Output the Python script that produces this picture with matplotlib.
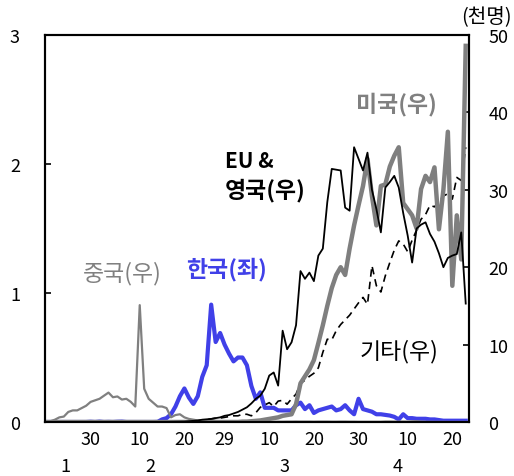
import matplotlib
matplotlib.use("Agg")
import matplotlib.pyplot as plt
import numpy as np

plt.rcParams['font.family'] = ['Noto Sans CJK KR', 'DejaVu Sans']

# daily new cases, 95 days (x index 0 = Jan 20)
china = [0.0, 0.1, 0.3, 0.6, 0.7, 1.3, 1.5, 1.5, 1.8, 2.1,
         2.6, 2.8, 3.0, 3.4, 3.8, 3.2, 3.3, 2.9, 3.0, 2.6,
         2.0, 15.1, 4.3, 3.0, 2.5, 2.0, 2.0, 1.8, 0.6, 0.9,
         1.0, 0.6, 0.4, 0.3, 0.2, 0.2, 0.2, 0.15, 0.15, 0.1,
         0.1, 0.05, 0.05, 0.05, 0.03, 0.03, 0.02, 0.02, 0.02, 0.02,
         0.02, 0.03, 0.04, 0.04, 0.05, 0.05, 0.06, 0.05, 0.05, 0.05,
         0.04, 0.05, 0.05, 0.05, 0.04, 0.04, 0.05, 0.05, 0.04, 0.04,
         0.03, 0.03, 0.03, 0.03, 0.03, 0.03, 0.06, 0.06, 0.05, 0.06,
         0.06, 0.05, 0.09, 0.1, 0.05, 0.03, 0.03, 0.02, 0.02, 0.02,
         0.01, 0.01, 0.01, 0.01, 0.01]

korea = [0.0, 0.0, 0.0, 0.0, 0.0, 0.0, 0.0, 0.0, 0.0, 0.0,
         0.002, 0.0, 0.003, 0.0, 0.001, 0.0, 0.002, 0.003, 0.0, 0.0,
         0.0, 0.0, 0.0, 0.0, 0.0, 0.001, 0.02, 0.03, 0.06, 0.12,
         0.2, 0.26, 0.19, 0.14, 0.2, 0.35, 0.44, 0.91, 0.62, 0.69,
         0.6, 0.53, 0.47, 0.5, 0.5, 0.44, 0.28, 0.18, 0.23, 0.11,
         0.11, 0.11, 0.09, 0.09, 0.09, 0.09, 0.13, 0.15, 0.1, 0.13,
         0.07, 0.09, 0.1, 0.11, 0.12, 0.09, 0.1, 0.13, 0.09, 0.06,
         0.18, 0.1, 0.09, 0.08, 0.06, 0.06, 0.055, 0.05, 0.04, 0.02,
         0.06, 0.03, 0.03, 0.025, 0.025, 0.025, 0.02, 0.02, 0.015, 0.01,
         0.01, 0.01, 0.01, 0.01, 0.01]

eu_uk = [0.0, 0.0, 0.0, 0.0, 0.0, 0.0, 0.0, 0.0, 0.0, 0.0,
         0.0, 0.0, 0.0, 0.0, 0.0, 0.0, 0.0, 0.0, 0.0, 0.0,
         0.0, 0.0, 0.0, 0.0, 0.0, 0.0, 0.0, 0.01, 0.02, 0.03,
         0.04, 0.05, 0.1, 0.15, 0.2, 0.3, 0.35, 0.4, 0.5, 0.6,
         0.8, 0.9, 1.1, 1.3, 1.6, 1.9, 2.4, 3.0, 3.4, 4.3,
         6.0, 6.4, 4.7, 11.8, 9.4, 10.3, 12.5, 19.5, 18.5, 19.3,
         18.2, 21.5, 22.4, 28.4, 32.7, 32.6, 32.5, 27.7, 27.3, 35.5,
         34.0, 32.5, 34.8, 30.0, 27.5, 24.5, 30.3, 31.0, 31.8, 30.3,
         27.0, 24.1, 20.6, 25.0, 25.5, 25.8, 24.3, 23.3, 21.8, 20.0,
         21.2, 21.5, 21.7, 24.5, 15.3]

usa = [0.0] * 44 + [
         0.05, 0.05, 0.1, 0.15, 0.2, 0.3,
         0.4, 0.5, 0.6, 0.8, 0.9, 1.0, 2.3, 5.0, 5.9, 6.8,
         8.0, 10.2, 12.5, 15.0, 17.3, 19.0, 20.0, 19.0, 22.4, 25.4,
         28.0, 30.5, 34.0, 29.2, 25.4, 30.5, 30.7, 33.0, 34.4, 35.5,
         28.3, 27.5, 26.7, 25.0, 30.1, 31.8, 31.0, 32.9, 24.9, 30.0,
         37.5, 17.6, 26.7, 21.0, 48.6]

others = [0.0] * 30 + [
         0.02, 0.05, 0.08, 0.1, 0.15, 0.2, 0.3, 0.4, 0.5, 0.5,
         0.6, 0.7, 0.8, 0.8, 1.0, 1.0, 0.8, 1.2, 1.9, 2.2,
         2.5, 2.0, 2.7, 2.8, 2.3, 3.0, 3.6, 5.0, 5.4, 5.9,
         6.3, 7.0, 9.0, 10.7, 10.6, 11.8, 12.6, 13.2, 13.8, 14.6,
         15.4, 16.1, 15.2, 20.2, 17.6, 16.8, 18.9, 20.6, 22.2, 23.4,
         23.0, 22.0, 23.5, 24.8, 26.2, 26.8, 28.0, 27.8, 28.5, 29.2,
         29.5, 28.8, 31.6, 31.2, 35.5]

tick_pos = [10, 21, 31, 40, 50, 60, 70, 81, 91]
tick_lbl = ['30', '10', '20', '29', '10', '20', '30', '10', '20']
month_pos = [4.3, 23.3, 53.5, 78.8]
month_lbl = ['1', '2', '3', '4']

days = np.arange(len(korea))

fig = plt.figure(figsize=(5.14, 4.77), dpi=100)
ax = fig.add_axes([0.0875, 0.1132, 0.825, 0.8113])
ax2 = ax.twinx()

ax.plot(days, korea, color='#4040e8', lw=3.0, zorder=3)

ax2.plot(days, china, color='#808080', lw=1.6)
ax2.plot(days, others, color='black', lw=1.2, ls=(0, (4.5, 3)))
ax2.plot(days, usa, color='#7f7f7f', lw=3.2)
ax2.plot(days, eu_uk, color='black', lw=1.3)

ax.set_xlim(-0.22, 94.74)
ax.set_ylim(0, 3)
ax2.set_ylim(0, 50)
ax.set_yticks([0, 1, 2, 3])
ax2.set_yticks([0, 10, 20, 30, 40, 50])
ax.set_xticks(tick_pos)
ax.set_xticklabels(tick_lbl)

ax.tick_params(axis='y', direction='in', length=4, width=1.2, pad=18, labelsize=13)
ax2.tick_params(axis='y', direction='in', length=4, width=1.2, pad=14, labelsize=13)
ax.tick_params(axis='x', length=0, pad=6, labelsize=13)
for a in (ax, ax2):
    for s in a.spines.values():
        s.set_linewidth(1.5)

for p, m in zip(month_pos, month_lbl):
    ax.text(p, -0.34, m, ha='center', va='center', fontsize=13)

fig.text(0.996, 0.963, '(천명)', ha='right', va='center', fontsize=14.5)

ax.text(17, 1.16, '중국(우)', color='#808080', fontsize=16.5, ha='center', va='center')
ax.text(40.5, 1.19, '한국(좌)', color='#4040e8', fontsize=16.5, fontweight='bold', ha='center', va='center')
ax.text(40, 2.03, 'EU &', color='black', fontsize=15, fontweight='bold', ha='left', va='center')
ax.text(40, 1.8, '영국(우)', color='black', fontsize=16.5, fontweight='bold', ha='left', va='center')
ax.text(78.5, 2.47, '미국(우)', color='#808080', fontsize=16.5, fontweight='bold', ha='center', va='center')
ax.text(79, 0.55, '기타(우)', color='black', fontsize=16.5, ha='center', va='center')

fig.savefig('out.png', dpi=100)
